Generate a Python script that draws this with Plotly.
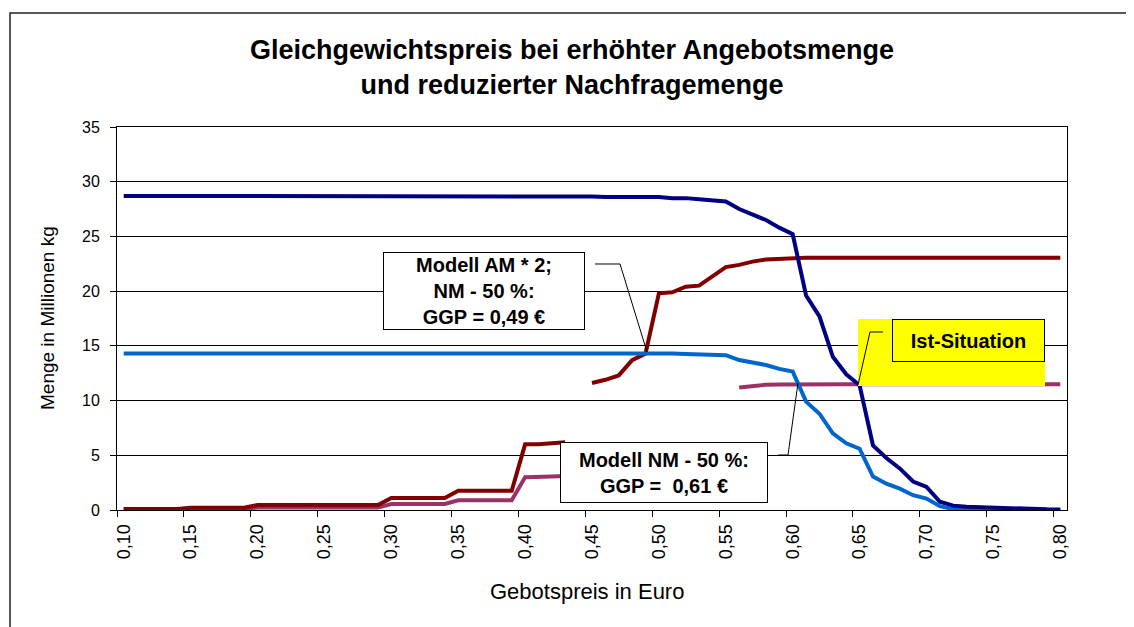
import plotly.graph_objects as go

# Gebotspreis in Euro (Kategorien)
preis = [0.10, 0.11, 0.12, 0.13, 0.14, 0.15, 0.16, 0.17, 0.18, 0.19,
         0.20, 0.21, 0.22, 0.23, 0.24, 0.25, 0.26, 0.27, 0.28, 0.29,
         0.30, 0.31, 0.32, 0.33, 0.34, 0.35, 0.36, 0.37, 0.38, 0.39,
         0.40, 0.41, 0.42, 0.43, 0.44, 0.45, 0.46, 0.47, 0.48, 0.49,
         0.50, 0.51, 0.52, 0.53, 0.54, 0.55, 0.56, 0.57, 0.58, 0.59,
         0.60, 0.61, 0.62, 0.63, 0.64, 0.65, 0.66, 0.67, 0.68, 0.69,
         0.70, 0.71, 0.72, 0.73, 0.74, 0.75, 0.76, 0.77, 0.78, 0.79,
         0.80]

# Nachfrage (Ist)
nachfrage = [28.7, 28.7, 28.7, 28.7, 28.7, 28.7, 28.7, 28.7, 28.7, 28.7,
             28.7, 28.7, 28.7, 28.7, 28.7, 28.7, 28.7, 28.7, 28.7, 28.7,
             28.7, 28.7, 28.7, 28.7, 28.7, 28.7, 28.65, 28.65, 28.65, 28.65,
             28.65, 28.65, 28.65, 28.65, 28.65, 28.65, 28.6, 28.6, 28.6, 28.6,
             28.6, 28.5, 28.5, 28.4, 28.3, 28.2, 27.5, 27.0, 26.5, 25.8,
             25.2, 19.6, 17.7, 14.0, 12.4, 11.4, 5.9, 4.75, 3.8, 2.6,
             2.1, 0.75, 0.4, 0.3, 0.25, 0.2, 0.15, 0.1, 0.08, 0.06,
             0.05]

# Nachfrage - 50 %
nachfrage_nm50 = [14.3, 14.3, 14.3, 14.3, 14.3, 14.3, 14.3, 14.3, 14.3, 14.3,
                  14.3, 14.3, 14.3, 14.3, 14.3, 14.3, 14.3, 14.3, 14.3, 14.3,
                  14.3, 14.3, 14.3, 14.3, 14.3, 14.3, 14.3, 14.3, 14.3, 14.3,
                  14.3, 14.3, 14.3, 14.3, 14.3, 14.3, 14.3, 14.3, 14.3, 14.3,
                  14.35, 14.3, 14.25, 14.2, 14.2, 14.15, 13.7, 13.5, 13.25, 12.9,
                  12.65, 9.9, 8.8, 7.0, 6.1, 5.6, 3.05, 2.4, 1.95, 1.35,
                  1.05, 0.35, 0.08, 0.04, 0.03, 0.02, 0.02, 0.01, 0.01, 0.0,
                  0.0]

# Angebot * 2 (Luecke = vom Beschriftungsfeld verdeckt)
angebot_am2 = [0.1, 0.1, 0.1, 0.1, 0.1, 0.2, 0.2, 0.2, 0.2, 0.2,
               0.45, 0.45, 0.45, 0.45, 0.45, 0.45, 0.45, 0.45, 0.45, 0.45,
               1.1, 1.1, 1.1, 1.1, 1.1, 1.75, 1.75, 1.75, 1.75, 1.75,
               6.0, 6.0, 6.1, 6.2, None, 11.6, 11.9, 12.3, 13.7, 14.3,
               19.8, 19.9, 20.4, 20.5, 21.3, 22.2, 22.4, 22.7, 22.9, 22.95,
               23.05, 23.05, 23.05, 23.05, 23.05, 23.05, 23.05, 23.05, 23.05, 23.05,
               23.05, 23.05, 23.05, 23.05, 23.05, 23.05, 23.05, 23.05, 23.05, 23.05,
               23.05]

# Angebot (Ist)
angebot = [0.05, 0.05, 0.05, 0.05, 0.05, 0.1, 0.1, 0.1, 0.1, 0.1,
           0.22, 0.22, 0.22, 0.22, 0.22, 0.22, 0.22, 0.22, 0.22, 0.22,
           0.55, 0.55, 0.55, 0.55, 0.55, 0.88, 0.88, 0.88, 0.88, 0.88,
           3.0, 3.0, 3.05, 3.1, None, None, None, None, None, None,
           None, None, None, None, None, None, 11.2, 11.35, 11.45, 11.48,
           11.5, 11.5, 11.5, 11.5, 11.5, 11.5, 11.5, 11.5, 11.5, 11.5,
           11.5, 11.5, 11.5, 11.5, 11.5, 11.5, 11.5, 11.5, 11.5, 11.5,
           11.5]

tick_preis = [0.10, 0.15, 0.20, 0.25, 0.30, 0.35, 0.40, 0.45,
              0.50, 0.55, 0.60, 0.65, 0.70, 0.75, 0.80]
tick_text = ["0,10", "0,15", "0,20", "0,25", "0,30", "0,35", "0,40", "0,45",
             "0,50", "0,55", "0,60", "0,65", "0,70", "0,75", "0,80"]

FONT = "Liberation Sans, Arial, sans-serif"
OFF = 8  # body margin of the page

# plot area in page pixels: x 117..1067, y 127..510
def px(x):
    return (x - 117) / 950.0

def py(y):
    return (510 - y) / 383.0

fig = go.Figure()
fig.add_trace(go.Scatter(x=preis, y=angebot, mode="lines", line=dict(color="#993366", width=4),
                         connectgaps=False, name="Angebot"))
fig.add_trace(go.Scatter(x=preis, y=angebot_am2, mode="lines", line=dict(color="#800000", width=4),
                         connectgaps=False, name="AM * 2"))
fig.add_trace(go.Scatter(x=preis, y=nachfrage_nm50, mode="lines", line=dict(color="#0066CC", width=4),
                         name="NM - 50 %"))
fig.add_trace(go.Scatter(x=preis, y=nachfrage, mode="lines", line=dict(color="#000080", width=4),
                         name="Nachfrage"))

shapes = []
# gridline gaps (white, above grid but below lines)
for x0, x1, yv in [(585, 648, 291.2), (382, 647, 346.2), (560, 800, 400.6), (770, 799, 455.5)]:
    shapes.append(dict(type="rect", xref="paper", yref="paper", layer="between",
                       x0=px(x0), x1=px(x1), y0=py(yv + 2), y1=py(yv - 2),
                       fillcolor="white", line=dict(width=0)))
# yellow field of Ist-Situation
shapes.append(dict(type="rect", xref="paper", yref="paper", layer="above",
                   x0=px(858), x1=px(1045), y0=py(386), y1=py(319),
                   fillcolor="#FFFF00", line=dict(width=0)))
# leader lines
for pts in [[(595, 264), (620, 264), (647, 352)],
            [(778, 455), (788, 455), (798, 383)],
            [(883, 332), (870, 332), (858, 385)]]:
    path = "M " + " L ".join("%f,%f" % (px(a), py(b)) for a, b in pts)
    shapes.append(dict(type="path", xref="paper", yref="paper", layer="above",
                       path=path, line=dict(color="black", width=1)))
# outer chart border
shapes.append(dict(type="rect", xref="paper", yref="paper", layer="above",
                   x0=px(10), x1=px(1145), y0=py(640), y1=py(13),
                   line=dict(color="#222222", width=1.5)))

bold = dict(family=FONT, size=20, color="black", weight="bold")
annotations = [
    dict(xref="paper", yref="paper", x=px(484), y=py(290.5), xanchor="center", yanchor="middle",
         text="Modell AM * 2;<br>NM - 50 %:<br>GGP = 0,49 €", showarrow=False, font=bold,
         bgcolor="white", bordercolor="black", borderwidth=1, borderpad=0, width=200, height=76),
    dict(xref="paper", yref="paper", x=px(664), y=py(472), xanchor="center", yanchor="middle",
         text="Modell NM - 50 %:<br>GGP =  0,61 €", showarrow=False, font=bold,
         bgcolor="white", bordercolor="black", borderwidth=1, borderpad=0, width=206, height=59),
    dict(xref="paper", yref="paper", x=px(968.5), y=py(340.5), xanchor="center", yanchor="middle",
         text="Ist-Situation", showarrow=False, font=bold,
         bordercolor="black", borderwidth=1, borderpad=0, width=151, height=41),
    dict(xref="paper", yref="paper", x=px(47), y=py(318), xanchor="center", yanchor="middle",
         text="Menge in Millionen kg", textangle=-90, showarrow=False,
         font=dict(family=FONT, size=19, color="black")),
    dict(xref="paper", yref="paper", x=px(587), y=py(591), xanchor="center", yanchor="middle",
         text="Gebotspreis in Euro", showarrow=False,
         font=dict(family=FONT, size=22, color="black")),
]

fig.update_layout(
    width=1134 - OFF, height=627 - OFF,
    margin=dict(l=117 - OFF, r=67, t=127 - OFF, b=117),
    paper_bgcolor="white", plot_bgcolor="white",
    showlegend=False,
    title=dict(text="Gleichgewichtspreis bei erhöhter Angebotsmenge<br>und reduzierter Nachfragemenge",
               xref="container", yref="container",
               x=(572 - OFF) / (1134 - OFF), y=1 - (59 - OFF) / (627 - OFF),
               xanchor="center", yanchor="middle",
               font=dict(family=FONT, size=27, color="black", weight="bold")),
    shapes=shapes,
    annotations=annotations,
)
fig.update_xaxes(range=[0.095, 0.805], tickvals=tick_preis, ticktext=tick_text, tickangle=-90,
                 ticks="outside", ticklen=6, tickcolor="rgba(0,0,0,0)",
                 minor=dict(ticks="outside", ticklen=6, tick0=0.095, dtick=0.05, tickcolor="black",
                            showgrid=False),
                 showgrid=False, zeroline=False, showline=True, linecolor="black", linewidth=1,
                 mirror=True, tickfont=dict(family=FONT, size=18, color="black"))
fig.update_yaxes(range=[0, 35], dtick=5, ticks="outside", ticklen=6, tickcolor="black",
                 ticklabelstandoff=7,
                 showgrid=True, gridcolor="black", gridwidth=1, zeroline=False,
                 showline=True, linecolor="black", linewidth=1, mirror=True,
                 tickfont=dict(family=FONT, size=16, color="black"))

fig.write_html("out.html")
